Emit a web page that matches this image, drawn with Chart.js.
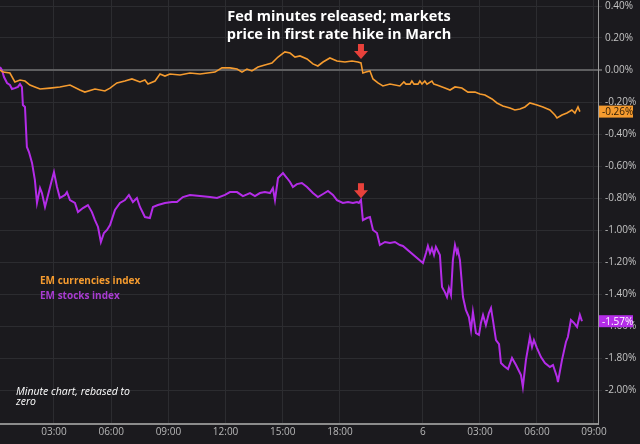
<!DOCTYPE html>
<html>
<head>
<meta charset="utf-8">
<script src="https://cdn.jsdelivr.net/npm/chart.js@4.4.1/dist/chart.umd.min.js"></script>
<style>
  html, body { margin: 0; padding: 0; background: #1b1a1e; }
  #wrap { width: 640px; height: 444px; position: relative; }
</style>
</head>
<body>
<div id="wrap"><canvas id="chart_em"></canvas></div>
<script>
// session hours (the overnight gap is compressed like in the source chart)
const currencyHours = [0.17, 0.33, 0.69, 0.95, 1.22, 1.48, 1.74, 2.00, 2.27, 2.79, 3.31, 3.84, 4.36, 4.62, 5.15, 5.67, 5.94, 6.30, 6.72, 7.09,
  7.51, 7.77, 7.93, 8.30, 8.56, 8.82, 9.08, 9.61, 10.13, 10.66, 11.44, 11.81, 12.23, 12.60, 12.86, 13.12, 13.38, 13.70, 14.06, 14.43,
  14.75, 15.11, 15.38, 15.64, 15.90, 16.27, 16.58, 16.84, 17.11, 17.47, 17.84, 18.26, 18.63, 18.94, 19.10, 19.20, 19.36, 19.57, 19.73, 19.99,
  20.25, 20.62, 21.14, 21.35, 21.46, 21.67, 21.77, 21.88, 22.09, 22.19, 22.30, 22.45, 22.56, 22.82, 22.92, 23.08, 23.50, 23.77, 24.03, 24.39,
  24.71, 25.08, 25.34, 25.60, 25.97, 26.23, 26.54, 26.91, 27.17, 27.44, 27.70, 27.96, 28.33, 28.64, 29.01, 29.27, 29.38, 29.64, 29.90, 30.16,
  30.32, 30.48, 30.58];
const currencyValues = [0.000, -0.013, -0.019, -0.075, -0.063, -0.069, -0.094, -0.106, -0.119, -0.113, -0.106, -0.094, -0.125, -0.138, -0.119, -0.131, -0.113, -0.081, -0.069, -0.056,
  -0.075, -0.063, -0.088, -0.069, -0.025, -0.038, -0.025, -0.031, -0.019, -0.025, -0.013, 0.013, 0.013, 0.006, -0.013, 0.006, -0.006, 0.019, 0.031, 0.044,
  0.081, 0.113, 0.106, 0.081, 0.088, 0.069, 0.038, 0.025, 0.050, 0.075, 0.056, 0.050, 0.056, 0.050, 0.044, -0.019, -0.013, -0.006, -0.056, -0.081,
  -0.100, -0.088, -0.100, -0.075, -0.088, -0.088, -0.069, -0.088, -0.088, -0.069, -0.088, -0.069, -0.088, -0.069, -0.088, -0.094, -0.113, -0.125, -0.106, -0.113,
  -0.138, -0.138, -0.150, -0.156, -0.181, -0.206, -0.225, -0.238, -0.250, -0.244, -0.231, -0.206, -0.219, -0.231, -0.250, -0.281, -0.300, -0.281, -0.269, -0.250,
  -0.269, -0.231, -0.260];

const stockHours = [0.17, 0.27, 0.38, 0.54, 0.69, 0.80, 0.95, 1.11, 1.22, 1.32, 1.37, 1.48, 1.58, 1.69, 1.85, 2.00, 2.11, 2.27, 2.37, 2.53,
  2.69, 2.89, 3.00, 3.16, 3.31, 3.58, 3.68, 3.84, 4.10, 4.26, 4.52, 4.78, 4.99, 5.15, 5.31, 5.46, 5.62, 5.78, 5.94, 6.20,
  6.46, 6.72, 6.93, 7.14, 7.35, 7.51, 7.77, 8.03, 8.19, 8.45, 8.82, 9.19, 9.45, 9.76, 10.13, 10.66, 11.18, 11.55, 11.97, 12.23,
  12.60, 12.91, 13.28, 13.54, 13.80, 14.06, 14.33, 14.48, 14.59, 14.75, 15.01, 15.22, 15.38, 15.53, 15.74, 16.00, 16.27, 16.58, 16.84, 17.11,
  17.37, 17.63, 17.84, 18.15, 18.42, 18.68, 18.89, 18.99, 19.10, 19.20, 19.41, 19.57, 19.73, 19.94, 20.09, 20.36, 20.62, 20.88, 21.14, 21.30,
  22.35, 22.51, 22.61, 22.72, 22.82, 22.93, 23.03, 23.24, 23.35, 23.50, 23.61, 23.71, 23.82, 23.92, 24.03, 24.13, 24.18, 24.29, 24.45, 24.60,
  24.76, 24.87, 24.97, 25.13, 25.29, 25.39, 25.50, 25.65, 25.81, 25.92, 26.02, 26.18, 26.34, 26.44, 26.60, 26.81, 27.02, 27.23, 27.49, 27.59,
  27.75, 27.96, 28.07, 28.17, 28.33, 28.54, 28.75, 29.01, 29.17, 29.38, 29.43, 29.64, 29.85, 29.95, 30.11, 30.27, 30.43, 30.58, 30.69];
const stockValues = [0.019, 0.000, -0.044, -0.081, -0.094, -0.119, -0.113, -0.106, -0.088, -0.106, -0.219, -0.231, -0.481, -0.513, -0.581, -0.688, -0.831, -0.738, -0.769, -0.856,
  -0.781, -0.688, -0.638, -0.731, -0.800, -0.781, -0.763, -0.813, -0.831, -0.888, -0.863, -0.844, -0.888, -0.938, -0.981, -1.075, -1.019, -1.000, -0.969, -0.875,
  -0.831, -0.813, -0.781, -0.825, -0.800, -0.856, -0.919, -0.925, -0.856, -0.844, -0.831, -0.825, -0.825, -0.794, -0.781, -0.788, -0.794, -0.800, -0.781, -0.763,
  -0.763, -0.788, -0.769, -0.788, -0.769, -0.763, -0.769, -0.738, -0.813, -0.675, -0.644, -0.675, -0.700, -0.731, -0.713, -0.706, -0.731, -0.769, -0.794, -0.775,
  -0.756, -0.781, -0.813, -0.831, -0.825, -0.831, -0.825, -0.831, -0.813, -0.938, -0.925, -0.919, -1.000, -1.019, -1.094, -1.075, -1.081, -1.075, -1.094, -1.100,
  -1.206, -1.144, -1.100, -1.144, -1.113, -1.156, -1.106, -1.156, -1.356, -1.388, -1.419, -1.363, -1.406, -1.188, -1.094, -1.144, -1.125, -1.188, -1.419, -1.500,
  -1.544, -1.625, -1.513, -1.644, -1.656, -1.581, -1.531, -1.594, -1.519, -1.488, -1.563, -1.688, -1.713, -1.831, -1.850, -1.869, -1.800, -1.844, -1.906, -1.981,
  -1.813, -1.669, -1.731, -1.688, -1.738, -1.794, -1.831, -1.856, -1.844, -1.919, -1.950, -1.813, -1.700, -1.669, -1.563, -1.581, -1.606, -1.531, -1.570];

const xTickHours = [3, 6, 9, 12, 15, 18, 22.35, 25.34, 28.33, 31.32];
const xTickLabels = ['03:00', '06:00', '09:00', '12:00', '15:00', '18:00', '6', '03:00', '06:00', '09:00'];
const yTickValues = [0.4, 0.2, 0, -0.2, -0.4, -0.6, -0.8, -1.0, -1.2, -1.4, -1.6, -1.8, -2.0];
const seriesNames = ['EM currencies index', 'EM stocks index'];
const lastLabels = ['-0.26%', '-1.57%'];
const fedMinutesHour = 19.1;

const orange = '#f59b2f';
const purple = '#b42ce8';

function toPoints(hours, values) {
    return hours.map((h, i) => ({x: h, y: values[i]}));
}

function drawArrow(ctx, x, tipY) {
    ctx.save();
    ctx.fillStyle = '#e8413b';
    ctx.fillRect(x - 3, tipY - 15, 6, 8);
    ctx.beginPath();
    ctx.moveTo(x - 7, tipY - 8);
    ctx.lineTo(x + 7, tipY - 8);
    ctx.lineTo(x, tipY);
    ctx.closePath();
    ctx.fill();
    ctx.restore();
}

const overlayPlugin = {
    id: 'overlay',
    afterDraw(chart) {
        var ctx = chart.ctx;
        var xs = chart.scales.x;
        var ys = chart.scales.y;
        var area = chart.chartArea;

        ctx.save();
        // headline
        ctx.fillStyle = '#ffffff';
        ctx.font = 'bold 14.5px "Open Sans"';
        ctx.textAlign = 'center';
        ctx.textBaseline = 'middle';
        ctx.fillText('Fed minutes released; markets', 339, 17);
        ctx.fillText('price in first rate hike in March', 339, 35);

        // series names
        ctx.textAlign = 'left';
        ctx.font = 'bold 10px "Open Sans"';
        ctx.fillStyle = orange;
        ctx.fillText(seriesNames[0], 40, 281);
        ctx.fillStyle = '#a83cd0';
        ctx.fillText(seriesNames[1], 40, 296);

        // note
        ctx.fillStyle = '#ffffff';
        ctx.font = 'italic 10.5px "Open Sans"';
        ctx.fillText('Minute chart, rebased to', 16, 392);
        ctx.fillText('zero', 16, 402);

        // arrows at the Fed minutes release
        var ax = xs.getPixelForValue(fedMinutesHour);
        drawArrow(ctx, ax, ys.getPixelForValue(0.05) - 3);
        drawArrow(ctx, ax, ys.getPixelForValue(-0.82) - 3);

        // last value tags on the axis
        var lastVals = [currencyValues[currencyValues.length - 1], stockValues[stockValues.length - 1]];
        var tagColors = [orange, purple];
        var textColors = ['#2a1a05', '#ffffff'];
        ctx.font = '10px "Open Sans"';
        for (var i = 0; i < 2; i++) {
            var ty = ys.getPixelForValue(lastVals[i]);
            ctx.fillStyle = tagColors[i];
            ctx.fillRect(area.right + 1, ty - 6, 34, 12);
            ctx.fillStyle = textColors[i];
            ctx.textAlign = 'left';
            ctx.fillText(lastLabels[i], area.right + 4, ty + 0.5);
        }
        ctx.restore();
    }
};

const bgPlugin = {
    id: 'bg',
    beforeDraw(chart) {
        var ctx = chart.ctx;
        ctx.save();
        ctx.fillStyle = '#1b1a1e';
        ctx.fillRect(0, 0, chart.width, chart.height);
        ctx.restore();
    }
};

var ctx_em = document.getElementById('chart_em').getContext('2d');

var chart_em = new Chart(ctx_em, {
    type: 'line',
    data: {
        datasets: [{
            label: seriesNames[0],
            data: toPoints(currencyHours, currencyValues),
            borderColor: orange,
            borderWidth: 1.6,
            pointRadius: 0,
            tension: 0
        }, {
            label: seriesNames[1],
            data: toPoints(stockHours, stockValues),
            borderColor: purple,
            borderWidth: 2,
            pointRadius: 0,
            tension: 0
        }]
    },
    options: {
        responsive: true,
        maintainAspectRatio: false,
        animation: false,
        layout: { padding: 0 },
        plugins: {
            legend: { display: false },
            tooltip: { enabled: false }
        },
        scales: {
            x: {
                type: 'linear',
                min: 0.17,
                max: 31.53,
                afterBuildTicks: scale => {
                    scale.ticks = xTickHours.map(v => ({value: v}));
                },
                afterFit: scale => {
                    scale.height = 20;
                    scale.paddingLeft = 0;
                    scale.paddingRight = 0;
                },
                ticks: {
                    autoSkip: false,
                    maxRotation: 0,
                    color: '#b8b8b8',
                    font: { family: 'Open Sans', size: 10 },
                    padding: 2,
                    callback: (value, index) => xTickLabels[index]
                },
                grid: {
                    color: '#2c2c30',
                    drawTicks: false
                },
                border: { color: '#8c8c8c', width: 2 }
            },
            y: {
                position: 'right',
                min: -2.2125,
                max: 0.4375,
                afterBuildTicks: scale => {
                    scale.ticks = yTickValues.map(v => ({value: v}));
                },
                afterFit: scale => {
                    scale.width = 42;
                    scale.paddingTop = 0;
                    scale.paddingBottom = 0;
                },
                ticks: {
                    color: '#c4c4c4',
                    font: { family: 'Open Sans', size: 10 },
                    padding: 3,
                    callback: value => value.toFixed(2) + '%'
                },
                grid: {
                    color: ctx => (ctx.tick && ctx.tick.value === 0) ? '#5e5e60' : '#2c2c30',
                    lineWidth: ctx => (ctx.tick && ctx.tick.value === 0) ? 2 : 1,
                    tickLength: 4
                },
                border: { color: '#9a9a9a', width: 1 }
            }
        }
    },
    plugins: [bgPlugin, overlayPlugin]
});
</script>
</body>
</html>
